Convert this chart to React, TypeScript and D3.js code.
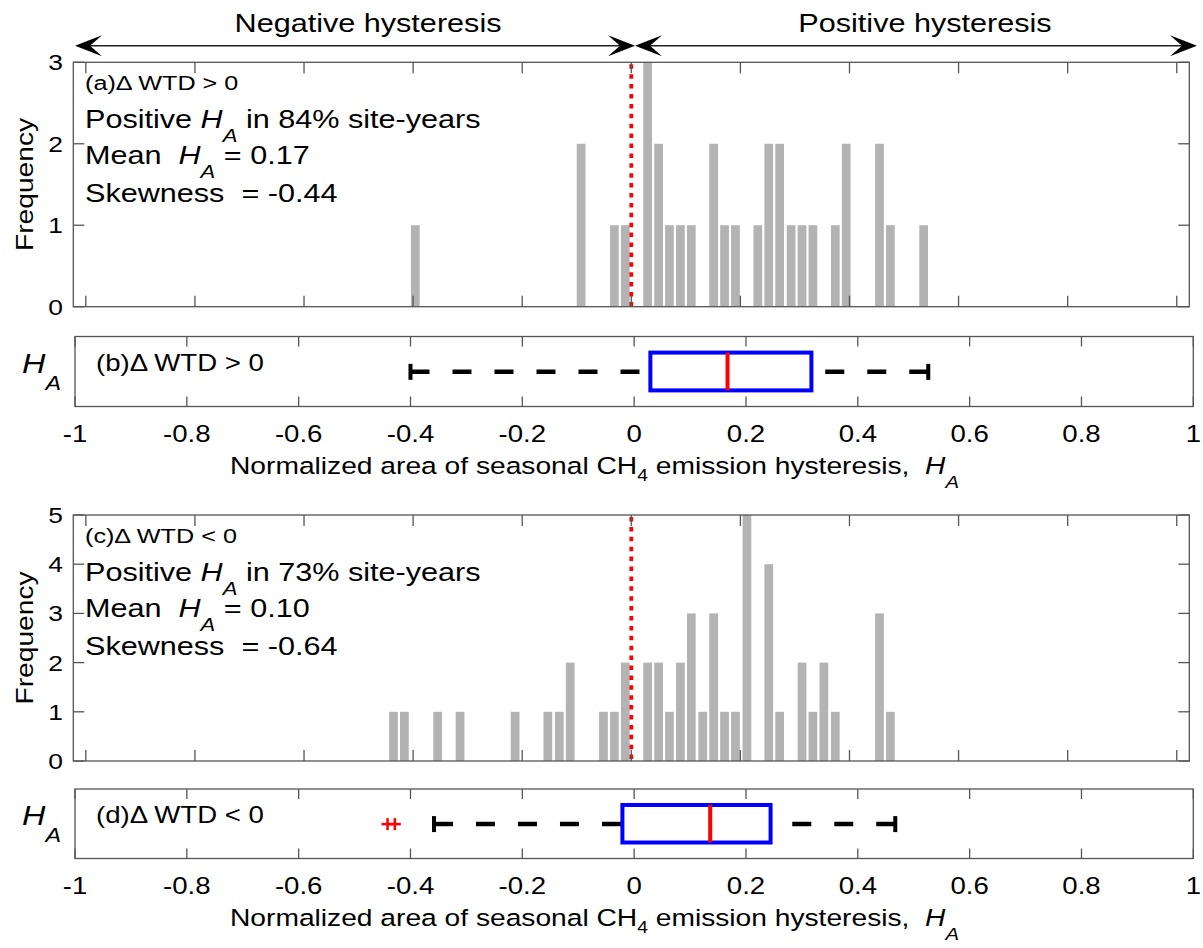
import React from 'react';
import * as d3 from 'd3';

const W = 1203;
const H = 948;
const SX = 1.2;
const FONT = "'Liberation Sans', Arial, Helvetica, sans-serif";

// ---- data ----
const xTicks = [-1, -0.8, -0.6, -0.4, -0.2, 0, 0.2, 0.4, 0.6, 0.8, 1];
const xTickLabels = ['-1', '-0.8', '-0.6', '-0.4', '-0.2', '0', '0.2', '0.4', '0.6', '0.8', '1'];

// panel (a): histogram bar centres and counts, ΔWTD > 0
const binsA = [-0.396, -0.092, -0.031, -0.011, 0.030, 0.050, 0.070, 0.090, 0.110, 0.151, 0.171, 0.191, 0.232, 0.252, 0.272, 0.293, 0.313, 0.333, 0.374, 0.394, 0.455, 0.475, 0.536];
const countsA = [1, 2, 1, 1, 3, 2, 1, 1, 1, 2, 1, 1, 1, 2, 2, 1, 1, 1, 1, 2, 2, 1, 1];
const yTicksA = [0, 1, 2, 3];

// panel (c): histogram bar centres and counts, ΔWTD < 0
const binsC = [-0.436, -0.416, -0.355, -0.314, -0.213, -0.153, -0.132, -0.112, -0.051, -0.031, -0.011, 0.030, 0.050, 0.070, 0.090, 0.110, 0.131, 0.151, 0.171, 0.191, 0.212, 0.252, 0.272, 0.313, 0.333, 0.353, 0.374, 0.455, 0.475];
const countsC = [1, 1, 1, 1, 1, 1, 1, 2, 1, 1, 2, 2, 2, 1, 2, 3, 1, 3, 1, 1, 5, 4, 1, 2, 1, 2, 1, 3, 1];
const yTicksC = [0, 1, 2, 3, 4, 5];

// box plots: [lower whisker, q1, median, q3, upper whisker]
const statsB = [-0.400, 0.029, 0.167, 0.317, 0.526];
const outliersB: number[] = [];
const statsD = [-0.358, -0.021, 0.136, 0.244, 0.467];
const outliersD = [-0.441, -0.428];

const BAR_W = 0.016;

// ---- scales ----
const histX = d3.scaleLinear().domain([-1.023, 1.023]).range([73.3, 1189.3]);
const boxX = d3.scaleLinear().domain([-1, 1]).range([75, 1193.3]);

function T({ x, y, size, anchor = 'start', rot = 0, italic = false, children, fill = '#000', sx = SX }: any) {
  return (
    <text
      transform={`translate(${x},${y}) rotate(${rot}) scale(${sx},1)`}
      fontSize={size}
      textAnchor={anchor}
      fontStyle={italic ? 'italic' : 'normal'}
      fill={fill}
      fontFamily={FONT}
      style={{ whiteSpace: 'pre' }}
    >
      {children}
    </text>
  );
}

function HA({ size, sub }: { size: number; sub: number }) {
  return (
    <>
      <tspan fontStyle="italic">H</tspan>
      <tspan fontStyle="italic" fontSize={size * 0.72} dy={sub}>A</tspan>
    </>
  );
}

function Hist({ top, bottom, yMax, yTicks, bins, counts, tag, pct, mean, skew }: any) {
  const y = d3.scaleLinear().domain([0, yMax]).range([bottom, top]);
  const [x0, x1] = histX.range();
  const bw = histX(BAR_W) - histX(0);
  const tl = 11;
  const fs = 25.5;
  return (
    <g>
      {bins.map((b: number, i: number) => (
        <rect key={i} x={histX(b) - bw / 2} y={y(counts[i])} width={bw} height={bottom - y(counts[i])} fill="#b3b3b3" />
      ))}
      <line x1={histX(0)} x2={histX(0)} y1={top + 2} y2={bottom} stroke="#ff0000" strokeWidth={3.8} strokeDasharray="4.5 5.4" />
      <rect x={x0} y={top} width={x1 - x0} height={bottom - top} fill="none" stroke="#555" strokeWidth={1.3} />
      {xTicks.map((t) => (
        <g key={t}>
          <line x1={histX(t)} x2={histX(t)} y1={bottom} y2={bottom - tl} stroke="#555" strokeWidth={1.3} />
          <line x1={histX(t)} x2={histX(t)} y1={top} y2={top + tl} stroke="#555" strokeWidth={1.3} />
        </g>
      ))}
      {yTicks.map((t: number) => (
        <g key={t}>
          <line x1={x0} x2={x0 + tl} y1={y(t)} y2={y(t)} stroke="#555" strokeWidth={1.3} />
          <line x1={x1} x2={x1 - tl} y1={y(t)} y2={y(t)} stroke="#555" strokeWidth={1.3} />
          <T x={63} y={y(t) + 8} size={22} anchor="end">{String(t)}</T>
        </g>
      ))}
      <T x={33} y={(top + bottom) / 2} size={23.5} anchor="middle" rot={-90}>Frequency</T>
      <T x={85} y={top + 27.7} size={21}>{tag}</T>
      <T x={85} y={top + 66} size={fs}>
        {'Positive '}
        <HA size={fs} sub={14} />
        <tspan dy={-14}>{` in ${pct}% site-years`}</tspan>
      </T>
      <T x={85} y={top + 102} size={fs}>
        {'Mean  '}
        <HA size={fs} sub={14} />
        <tspan dy={-14}>{` = ${mean}`}</tspan>
      </T>
      <T x={85} y={top + 139.5} size={fs}>{`Skewness  = ${skew}`}</T>
    </g>
  );
}

function Box({ top, bottom, stats, outliers, tag }: any) {
  const [x0, x1] = boxX.range();
  const h = bottom - top;
  const yc = top + h * 0.505;
  const bTop = top + h * 0.23;
  const bBot = top + h * 0.77;
  const [lo, q1, med, q3, hi] = stats;
  const tl = 10;
  return (
    <g>
      <rect x={x0} y={top} width={x1 - x0} height={h} fill="none" stroke="#555" strokeWidth={1.3} />
      {xTicks.map((t) => (
        <g key={t}>
          <line x1={boxX(t)} x2={boxX(t)} y1={bottom} y2={bottom - tl} stroke="#555" strokeWidth={1.3} />
          <line x1={boxX(t)} x2={boxX(t)} y1={top} y2={top + tl} stroke="#555" strokeWidth={1.3} />
        </g>
      ))}
      {xTicks.map((t, i) => (
        <T key={'l' + t} x={boxX(t)} y={bottom + 35} size={23} anchor="middle">{xTickLabels[i]}</T>
      ))}
      <path d={`M${boxX(lo)},${yc}L${boxX(q1)},${yc}`} stroke="#000" strokeWidth={4.5} strokeDasharray="19 23" />
      <path d={`M${boxX(hi)},${yc}L${boxX(q3)},${yc}`} stroke="#000" strokeWidth={4.5} strokeDasharray="19 23" />
      <line x1={boxX(lo)} x2={boxX(lo)} y1={yc - 8} y2={yc + 8} stroke="#000" strokeWidth={4} />
      <line x1={boxX(hi)} x2={boxX(hi)} y1={yc - 8} y2={yc + 8} stroke="#000" strokeWidth={4} />
      <rect x={boxX(q1)} y={bTop} width={boxX(q3) - boxX(q1)} height={bBot - bTop} fill="none" stroke="#0000ff" strokeWidth={4} />
      <line x1={boxX(med)} x2={boxX(med)} y1={bTop} y2={bBot} stroke="#ff0000" strokeWidth={4} />
      {outliers.map((o: number, i: number) => (
        <g key={i} stroke="#ff0000" strokeWidth={2.5}>
          <line x1={boxX(o) - 6} x2={boxX(o) + 6} y1={yc} y2={yc} />
          <line x1={boxX(o)} x2={boxX(o)} y1={yc - 6} y2={yc + 6} />
        </g>
      ))}
      <T x={96} y={top + 34} size={23}>{tag}</T>
      <T x={22} y={top + 36} size={27}>
        <HA size={27} sub={17} />
      </T>
      <T x={230} y={bottom + 67} size={23.5}>
        {'Normalized area of seasonal CH'}
        <tspan fontSize={16} dy={7}>4</tspan>
        <tspan dy={-7}>{' emission hysteresis,  '}</tspan>
        <HA size={23.5} sub={14} />
      </T>
    </g>
  );
}

function Arrow({ xa, xb, y }: { xa: number; xb: number; y: number }) {
  const L = 27, Wd = 10.5, ind = 15;
  const headR = (tx: number) => `M${tx},${y}L${tx - L},${y - Wd}L${tx - ind},${y}L${tx - L},${y + Wd}Z`;
  const headL = (tx: number) => `M${tx},${y}L${tx + L},${y - Wd}L${tx + ind},${y}L${tx + L},${y + Wd}Z`;
  return (
    <g>
      <line x1={xa + 10} x2={xb - 10} y1={y} y2={y} stroke="#222" strokeWidth={1.5} />
      <path d={headL(xa)} fill="#000" />
      <path d={headR(xb)} fill="#000" />
    </g>
  );
}

export default function App() {
  return (
    <svg width={W} height={H} style={{ position: 'absolute', left: 0, top: 0, background: '#fff' }} fontFamily={FONT}>
      <rect x={0} y={0} width={W} height={H} fill="#fff" />
      <Arrow xa={75} xb={635} y={45.7} />
      <Arrow xa={635} xb={1197} y={45.7} />
      <T x={368} y={32} size={25.5} anchor="middle">Negative hysteresis</T>
      <T x={925} y={32} size={25.5} anchor="middle">Positive hysteresis</T>
      <Hist top={62.3} bottom={306.7} yMax={3} yTicks={yTicksA} bins={binsA} counts={countsA}
        tag="(a)Δ WTD > 0" pct={84} mean="0.17" skew="-0.44" />
      <Box top={336.5} bottom={406.5} stats={statsB} outliers={outliersB} tag="(b)Δ WTD > 0" />
      <Hist top={515} bottom={761} yMax={5} yTicks={yTicksC} bins={binsC} counts={countsC}
        tag="(c)Δ WTD < 0" pct={73} mean="0.10" skew="-0.64" />
      <Box top={789} bottom={858.5} stats={statsD} outliers={outliersD} tag="(d)Δ WTD < 0" />
    </svg>
  );
}
